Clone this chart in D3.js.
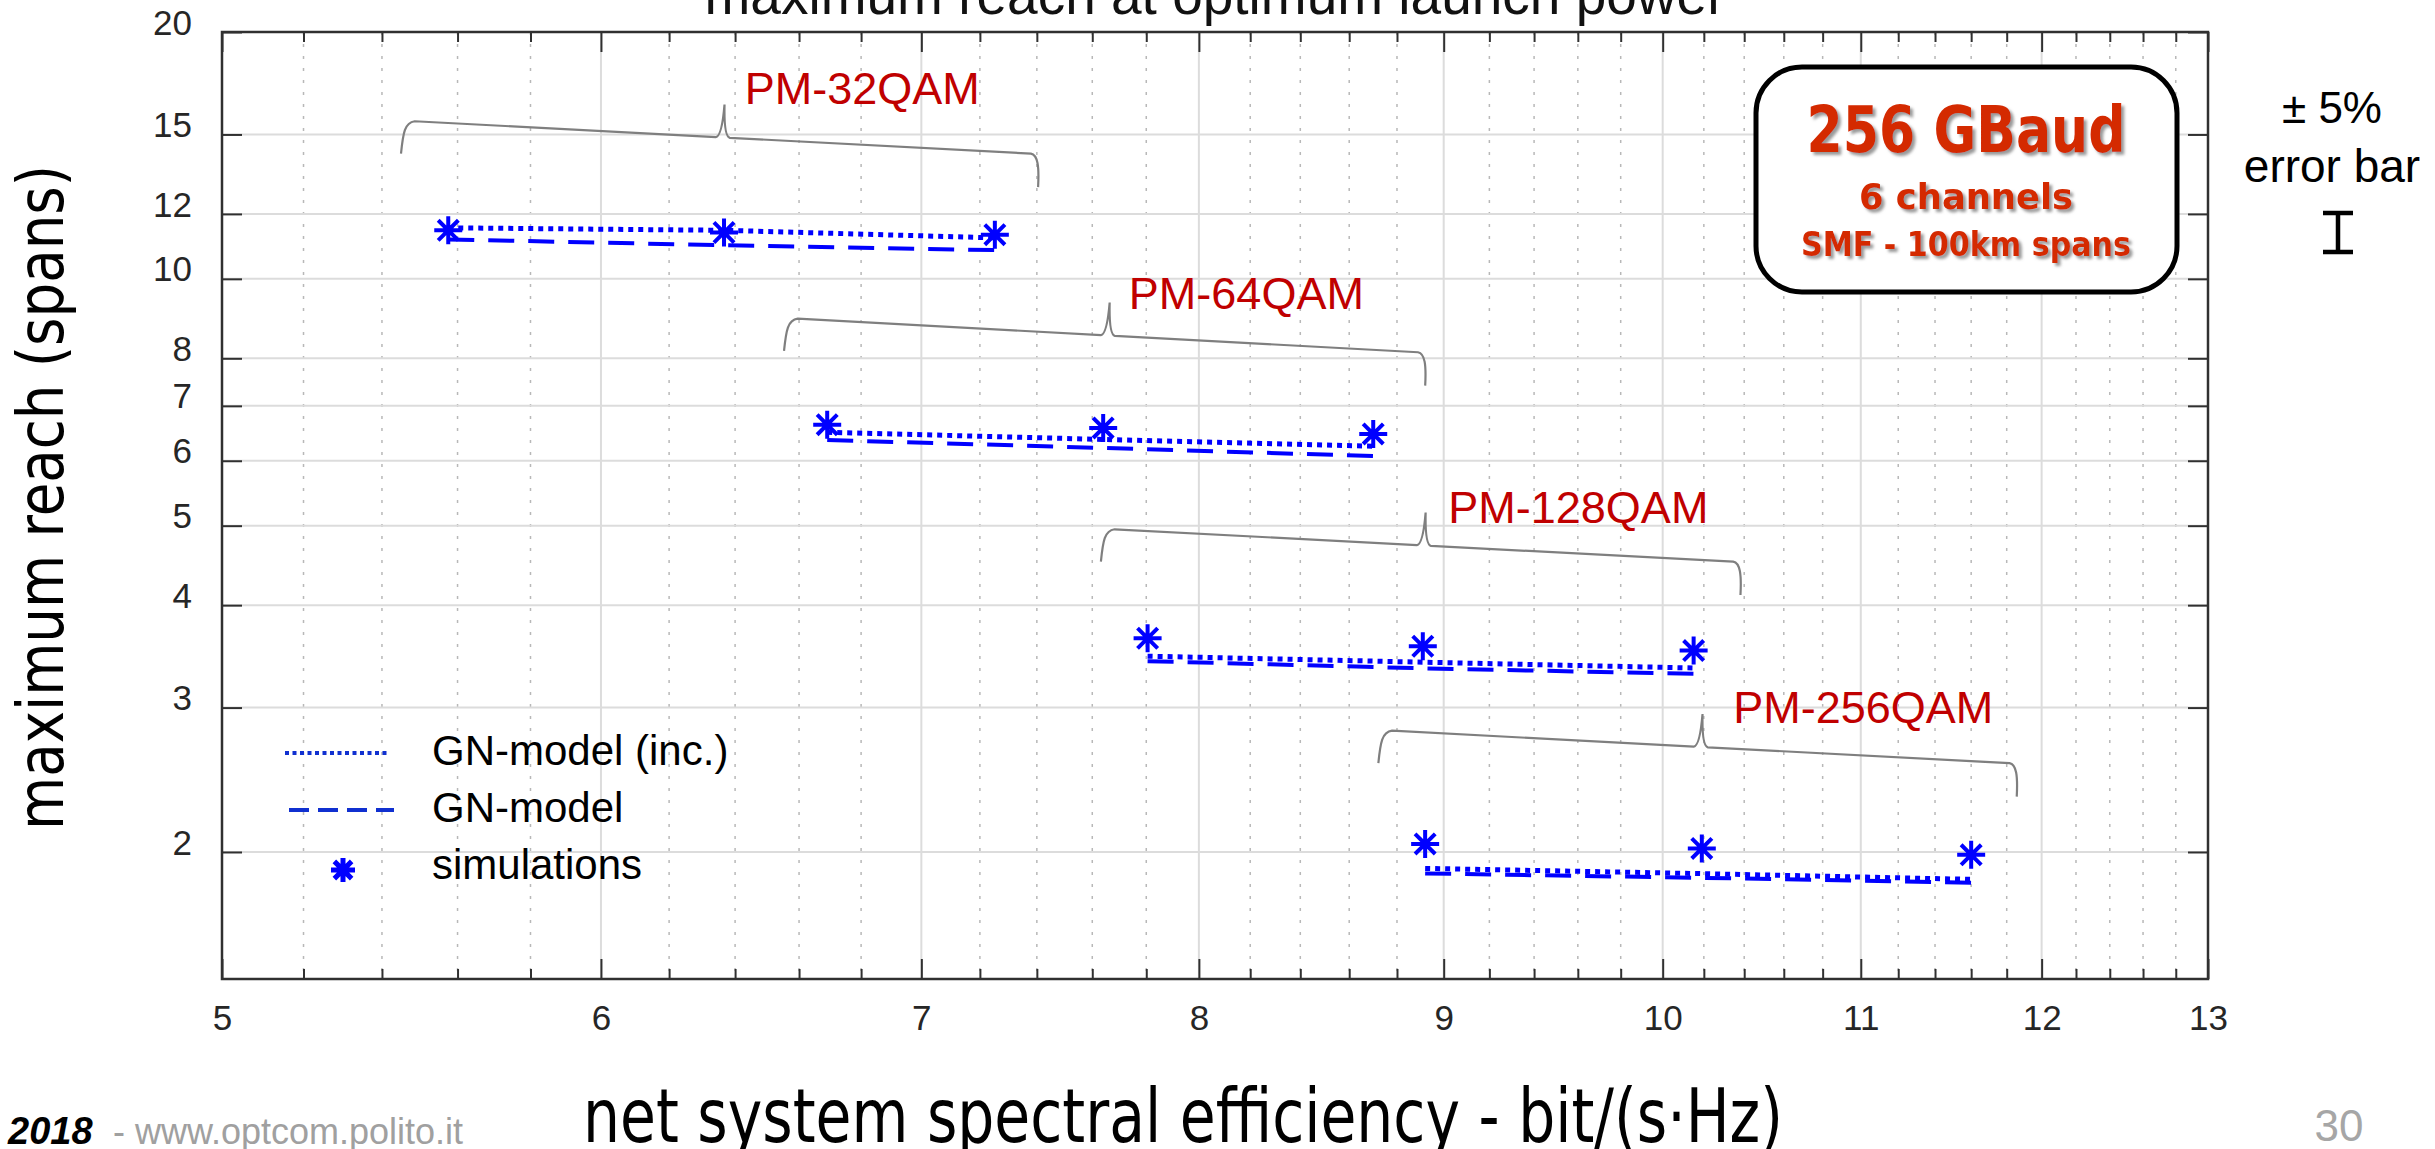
<!DOCTYPE html>
<html><head><meta charset="utf-8">
<script src="https://cdn.jsdelivr.net/npm/d3@7"></script>
<style>html,body{margin:0;padding:0;background:#fff;overflow:hidden}</style>
</head><body>
<svg id="chart" width="2435" height="1149" xmlns="http://www.w3.org/2000/svg"></svg>
<script>
// ---------------- data ----------------
const formats = ["PM-32QAM", "PM-64QAM", "PM-128QAM", "PM-256QAM"];
// net system spectral efficiency (bit/(s·Hz)) of the three configurations per format
const netSE = [
  [5.575, 6.366, 7.252],
  [6.69, 7.64, 8.70],
  [7.805, 8.91, 10.15],
  [8.92, 10.19, 11.60]
];
// maximum reach (spans)
const simReach   = [[11.46, 11.39, 11.32], [6.64, 6.58, 6.47], [3.645, 3.564, 3.521], [2.046, 2.020, 1.984]];
const gnIncReach = [[11.54, 11.46, 11.22], [6.50, 6.37, 6.25], [3.466, 3.408, 3.353], [1.910, 1.882, 1.852]];
const gnReach    = [[11.17, 10.99, 10.84], [6.36, 6.22, 6.08], [3.418, 3.350, 3.298], [1.883, 1.860, 1.835]];
// brace annotations (data coordinates: [SE, reach])
const braceStart = [[5.47, 15.58], [6.577, 8.95], [7.66, 4.954], [8.754, 2.814]];
const braceEnd   = [[7.40, 14.20], [8.915, 8.13], [10.375, 4.516], [11.85, 2.564]];
const labelAt    = [[6.43, 16.35], [7.735, 9.18], [9.02, 5.04], [10.345, 2.87]];
// axes
const xDomain = [5, 13];
const yDomain = [1.4, 20];
const xTicks = [5, 6, 7, 8, 9, 10, 11, 12, 13];
const yTicks = [2, 3, 4, 5, 6, 7, 8, 10, 12, 15, 20];
const legendLabels = ["GN-model (inc.)", "GN-model", "simulations"];
const titleText = "maximum reach at optimum launch power";
const xLabelText = "net system spectral efficiency - bit/(s\u00B7Hz)";
const yLabelText = "maximum reach (spans)";
const boxLines = ["256 GBaud", "6 channels", "SMF - 100km spans"];

// ---------------- layout ----------------
const L = 222, R = 2208, T = 32, B = 979;
const svg = d3.select("#chart");
const x = d3.scaleLog().domain(xDomain).range([L, R]);
const y = d3.scaleLog().domain(yDomain).range([B, T]);
const minorX = [];
for (let i = 5; i < 13; i++) for (let k = 1; k <= 4; k++) minorX.push(+(i + 0.2 * k).toFixed(1));

const sans = "'Liberation Sans', Arial, sans-serif";
const wide = "'DejaVu Sans', Verdana, sans-serif";
const BLUE = "#0000ff";

const defs = svg.append("defs");
const f = defs.append("filter").attr("id", "shadow").attr("x", "-10%").attr("y", "-20%").attr("width", "130%").attr("height", "160%");
f.append("feDropShadow").attr("dx", 3).attr("dy", 3).attr("stdDeviation", 1.6)
  .attr("flood-color", "#777").attr("flood-opacity", 0.75);

// grid
const grid = svg.append("g");
grid.selectAll(".mnx").data(minorX).join("line")
  .attr("x1", d => x(d)).attr("x2", d => x(d)).attr("y1", T).attr("y2", B)
  .attr("stroke", "#b8b8b8").attr("stroke-width", 1.5).attr("stroke-dasharray", "3,9");
grid.selectAll(".mjx").data(xTicks.slice(1, -1)).join("line")
  .attr("x1", d => x(d)).attr("x2", d => x(d)).attr("y1", T).attr("y2", B)
  .attr("stroke", "#dcdcdc").attr("stroke-width", 2);
grid.selectAll(".mjy").data(yTicks.slice(0, -1)).join("line")
  .attr("x1", L).attr("x2", R).attr("y1", d => y(d)).attr("y2", d => y(d))
  .attr("stroke", "#dcdcdc").attr("stroke-width", 2);

// axes (ticks pointing inward)
function styleAxis(g) {
  g.select(".domain").remove();
  g.selectAll(".tick line").attr("stroke", "#303030").attr("stroke-width", 2);
  g.selectAll(".tick text").attr("fill", "#262626").attr("font-family", sans).attr("font-size", 35);
}
svg.append("g").attr("transform", `translate(0,${B})`)
  .call(d3.axisBottom(x).tickValues(xTicks).tickFormat(d3.format("d")).tickSize(-20).tickPadding(26))
  .call(styleAxis);
svg.append("g").attr("transform", `translate(0,${B})`)
  .call(d3.axisBottom(x).tickValues(minorX).tickFormat("").tickSize(-10))
  .call(styleAxis);
svg.append("g").attr("transform", `translate(0,${T})`)
  .call(d3.axisTop(x).tickValues(xTicks).tickFormat("").tickSize(-20))
  .call(styleAxis);
svg.append("g").attr("transform", `translate(0,${T})`)
  .call(d3.axisTop(x).tickValues(minorX).tickFormat("").tickSize(-10))
  .call(styleAxis);
const yl = svg.append("g").attr("transform", `translate(${L},0)`)
  .call(d3.axisLeft(y).tickValues(yTicks).tickFormat(d3.format("d")).tickSize(-20).tickPadding(30))
  .call(styleAxis);
yl.selectAll(".tick text").attr("dy", "0.06em");
svg.append("g").attr("transform", `translate(${R},0)`)
  .call(d3.axisRight(y).tickValues(yTicks).tickFormat("").tickSize(-20))
  .call(styleAxis);
svg.append("rect").attr("x", L).attr("y", T).attr("width", R - L).attr("height", B - T)
  .attr("fill", "none").attr("stroke", "#303030").attr("stroke-width", 2.5);

// title and axis labels
svg.append("text").attr("x", (L + R) / 2).attr("y", 14).attr("text-anchor", "middle")
  .attr("font-family", sans).attr("font-size", 55).attr("fill", "#111").text(titleText);
svg.append("text").attr("x", 1183).attr("y", 1142).attr("text-anchor", "middle")
  .attr("font-family", wide).attr("font-size", 74).attr("fill", "#000")
  .attr("textLength", 1200).attr("lengthAdjust", "spacingAndGlyphs").text(xLabelText);
svg.append("text").attr("transform", `translate(63,${(165 + 830) / 2}) rotate(-90)`)
  .attr("text-anchor", "middle").attr("font-family", wide).attr("font-size", 64).attr("fill", "#000")
  .attr("textLength", 665).attr("lengthAdjust", "spacingAndGlyphs").text(yLabelText);

// braces and format labels
const bg = svg.append("g");
formats.forEach((fmt, i) => {
  const x0 = x(braceStart[i][0]), y0 = y(braceStart[i][1]);
  const x1 = x(braceEnd[i][0]), y1 = y(braceEnd[i][1]);
  const len = Math.hypot(x1 - x0, y1 - y0);
  const ang = Math.atan2(y1 - y0, x1 - x0) * 180 / Math.PI;
  const h = len / 2;
  const p = `M-6,33 C-5,12 -4,2 6,0 L${h - 7},0 Q${h - 1},-1 ${h},-33 Q${h + 1},-1 ${h + 7},0 L${len - 6},0 C${len + 1},1 ${len + 3},12 ${len + 3},33`;
  bg.append("path").attr("d", p).attr("transform", `translate(${x0},${y0}) rotate(${ang})`)
    .attr("fill", "none").attr("stroke", "#7f7f7f").attr("stroke-width", 2.2);
  bg.append("text").attr("x", x(labelAt[i][0])).attr("y", y(labelAt[i][1]))
    .attr("font-family", sans).attr("font-size", 45).attr("fill", "#c00000").text(fmt);
});

// model lines
const line = d3.line().x(d => x(d[0])).y(d => y(d[1]));
const dg = svg.append("g");
formats.forEach((fmt, i) => {
  const inc = netSE[i].map((s, j) => [s, gnIncReach[i][j]]);
  const gn = netSE[i].map((s, j) => [s, gnReach[i][j]]);
  dg.append("path").attr("d", line(gn)).attr("fill", "none").attr("stroke", BLUE)
    .attr("stroke-width", 4).attr("stroke-dasharray", "26,14");
  dg.append("path").attr("d", line(inc)).attr("fill", "none").attr("stroke", BLUE)
    .attr("stroke-width", 5).attr("stroke-dasharray", "5,5");
});
// simulation markers
function starPath(r) {
  const d = r * 0.72;
  return `M0,${-r}V${r}M${-r},0H${r}M${-d},${-d}L${d},${d}M${-d},${d}L${d},${-d}`;
}
formats.forEach((fmt, i) => {
  dg.selectAll(null).data(netSE[i].map((s, j) => [s, simReach[i][j]])).join("path")
    .attr("d", starPath(14)).attr("transform", d => `translate(${x(d[0])},${y(d[1])})`)
    .attr("fill", "none").attr("stroke", BLUE).attr("stroke-width", 4);
});

// legend
const lg = svg.append("g");
const rows = [753, 810, 867];
lg.append("line").attr("x1", 285).attr("x2", 390).attr("y1", rows[0]).attr("y2", rows[0])
  .attr("stroke", "#1030d0").attr("stroke-width", 4).attr("stroke-dasharray", "4,3.5");
lg.append("line").attr("x1", 289).attr("x2", 394).attr("y1", rows[1]).attr("y2", rows[1])
  .attr("stroke", "#1030d0").attr("stroke-width", 4).attr("stroke-dasharray", "20,9");
lg.append("path").attr("d", starPath(12)).attr("transform", `translate(343,${rows[2] + 3})`)
  .attr("fill", "none").attr("stroke", BLUE).attr("stroke-width", 5);
lg.selectAll("text").data(legendLabels).join("text")
  .attr("x", 432).attr("y", (d, i) => rows[i] + 12)
  .attr("font-family", sans).attr("font-size", 42).attr("fill", "#000").text(d => d);

// info box
const bx = svg.append("g");
bx.append("rect").attr("x", 1756).attr("y", 67).attr("width", 421).attr("height", 225)
  .attr("rx", 46).attr("ry", 46).attr("fill", "#fff").attr("stroke", "#000").attr("stroke-width", 5);
const bt = [
  {y: 152, size: 64, len: 319},
  {y: 209, size: 36, len: 214},
  {y: 256, size: 33, len: 330}
];
bx.selectAll("text").data(boxLines).join("text")
  .attr("x", 1966).attr("y", (d, i) => bt[i].y).attr("text-anchor", "middle")
  .attr("font-family", wide).attr("font-weight", "bold").attr("font-size", (d, i) => bt[i].size)
  .attr("textLength", (d, i) => bt[i].len).attr("lengthAdjust", "spacingAndGlyphs")
  .attr("fill", "#d42a00").attr("filter", "url(#shadow)").text(d => d);

// error bar legend
const eb = svg.append("g");
eb.append("text").attr("x", 2332).attr("y", 123).attr("text-anchor", "middle")
  .attr("font-family", sans).attr("font-size", 44).attr("fill", "#000").text("\u00B1 5%");
eb.append("text").attr("x", 2332).attr("y", 182).attr("text-anchor", "middle")
  .attr("font-family", sans).attr("font-size", 46).attr("fill", "#000").text("error bar");
eb.append("path").attr("d", "M2338,212V253M2323,213H2353M2323,252H2353")
  .attr("stroke", "#000").attr("stroke-width", 4.5).attr("fill", "none");

// footer
svg.append("text").attr("x", 8).attr("y", 1144).attr("font-family", sans).attr("font-weight", "bold")
  .attr("font-style", "italic").attr("font-size", 38).attr("fill", "#000").text("2018");
svg.append("text").attr("x", 113).attr("y", 1144).attr("font-family", sans)
  .attr("font-size", 36).attr("fill", "#a0a0a0").text("- www.optcom.polito.it");
svg.append("text").attr("x", 2339).attr("y", 1141).attr("text-anchor", "middle").attr("font-family", sans)
  .attr("font-size", 44).attr("fill", "#a6a6a6").text("30");
</script>
</body></html>
